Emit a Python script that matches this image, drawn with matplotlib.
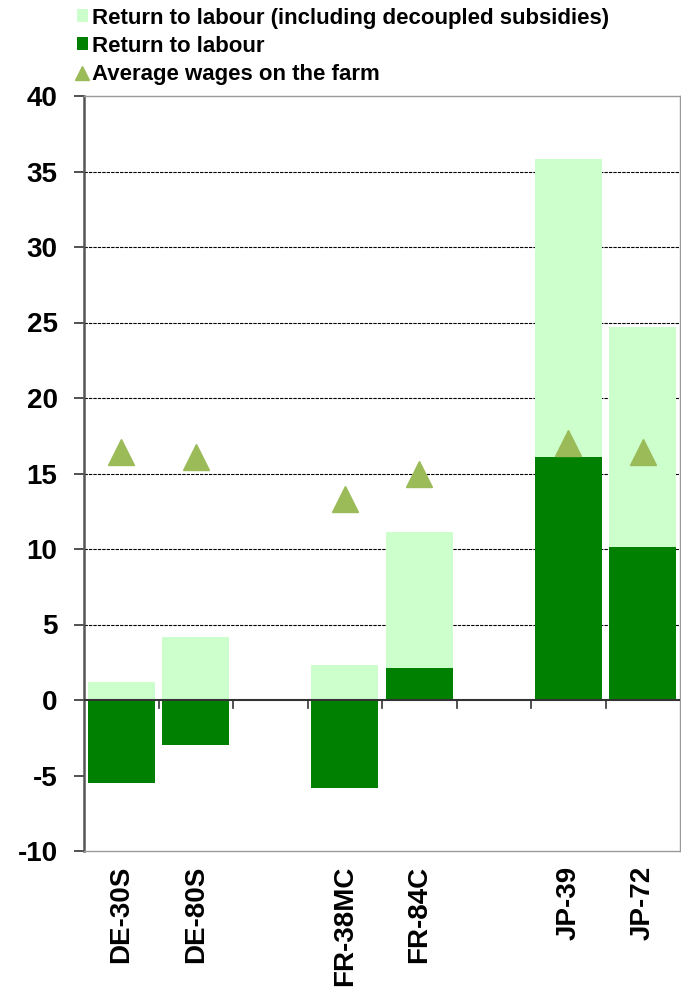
import numpy as np
import matplotlib
matplotlib.use("Agg")
import matplotlib.pyplot as plt
from matplotlib.lines import Line2D
from matplotlib.patches import Patch

plt.rcParams['font.family'] = ['Liberation Sans', 'DejaVu Sans']
plt.rcParams['font.weight'] = 'bold'
plt.rcParams['axes.unicode_minus'] = False

# categories, with empty slots between the countries
labels = ["DE-30S", "DE-80S", "", "FR-38MC", "FR-84C", "", "JP-39", "JP-72"]
incl_decoupled = [1.2, 4.2, np.nan, 2.3, 11.1, np.nan, 35.8, 24.7]
return_labour = [-5.5, -3.0, np.nan, -5.8, 2.1, np.nan, 16.1, 10.1]
avg_wages = [16.4, 16.1, np.nan, 13.3, 15.0, np.nan, 17.0, 16.4]

light = "#CCFFCC"
dark = "#008000"
tri = "#9BBB59"

fig = plt.figure(figsize=(6.81, 9.94), dpi=100)
ax = fig.add_axes([84 / 681, 143 / 994, 596 / 681, 755 / 994])

x = np.arange(len(labels))
ax.bar(x, incl_decoupled, width=0.9, color=light, zorder=2)
ax.bar(x, return_labour, width=0.9, color=dark, zorder=3)
ax.plot(x, avg_wages, linestyle="none", marker="^", markersize=18.5,
        color=tri, zorder=4)

ax.set_xlim(-0.5, len(labels) - 0.5)
ax.set_ylim(-10, 40)
ax.set_yticks(range(-10, 41, 5))
ax.tick_params(axis="y", labelsize=20, length=7, width=1.2, color="#333333", pad=12)
for t in ax.get_yticklabels():
    t.set_fontweight("bold")

# grid
for v in range(5, 40, 5):
    ax.axhline(v, color="black", linewidth=0.8, linestyle=(0, (3, 1)), zorder=1)

# zero line with category ticks
ax.axhline(0, color="#333333", linewidth=1.5, zorder=5)
ax.set_xticks([])
for b in np.arange(0.5, len(labels) - 0.5, 1.0):
    ax.plot([b, b], [0, -0.5], color="#333333", linewidth=1.2, zorder=5, clip_on=False)

for i, lab in enumerate(labels):
    ax.text(i, -11.0, lab, rotation=90, ha="center", va="top", fontsize=20,
            fontweight="bold")

for s in ["top", "right", "bottom"]:
    ax.spines[s].set_color("#999999")
    ax.spines[s].set_linewidth(1.0)
ax.spines["left"].set_color("#555555")
ax.spines["left"].set_linewidth(1.8)

handles = [
    Patch(facecolor=light, label="Return to labour (including decoupled subsidies)"),
    Patch(facecolor=dark, label="Return to labour"),
    Line2D([], [], linestyle="none", marker="^", markersize=10, color=tri,
           label="Average wages on the farm"),
]
fig.legend(handles=handles, loc="upper left", bbox_to_anchor=(61 / 681, 1.008),
           frameon=False, prop={"size": 16, "weight": "bold"},
           handlelength=0.5, handleheight=0.5, handletextpad=0.2,
           labelspacing=0.32, borderaxespad=0.3)

fig.savefig("out.png", dpi=100)
